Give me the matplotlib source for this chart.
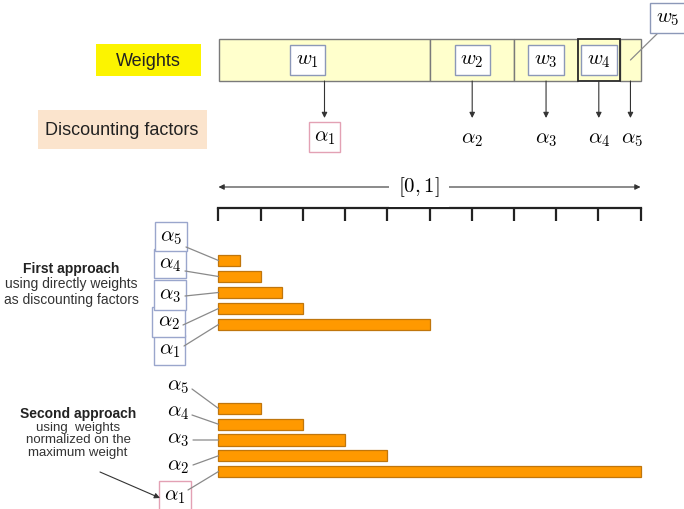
import numpy as np
import matplotlib
matplotlib.use('Agg')
import matplotlib.pyplot as plt
import matplotlib.transforms as mtransforms

plt.rcParams['mathtext.fontset'] = 'cm'
plt.rcParams['font.family'] = ['Liberation Sans', 'DejaVu Sans']

# ---------------- data ----------------
weight_labels = ['$w_1$', '$w_2$', '$w_3$', '$w_4$', '$w_5$']
factor_labels = [r'$\alpha_1$', r'$\alpha_2$', r'$\alpha_3$', r'$\alpha_4$', r'$\alpha_5$']
weights = [0.50, 0.20, 0.15, 0.10, 0.05]
first_approach = [0.50, 0.20, 0.15, 0.10, 0.05]    # weights used directly
second_approach = [1.00, 0.40, 0.30, 0.20, 0.10]   # weights normalized on max
ruler_ticks = [0.0, 0.1, 0.2, 0.3, 0.4, 0.5, 0.6, 0.7, 0.8, 0.9, 1.0]
range_label = '$[0, 1]$'

W, H = 684, 510
fig = plt.figure(figsize=(6.84, 5.10), dpi=100)
fig.patch.set_facecolor('white')


def px_axes(x0, y0, x1, y1):
    return fig.add_axes([x0 / W, 1 - y1 / H, (x1 - x0) / W, (y1 - y0) / H])


ov = fig.add_axes([0, 0, 1, 1])
ov.set_xlim(0, W)
ov.set_ylim(H, 0)
ov.axis('off')
ov.set_zorder(10)

MATH = 15
SANS = 13
SMALL = 10
GRAYLINE = '#8a8a8a'
BOXBLUE = '#9aa6cc'
PINK = '#e3a1b4'

# ---------------- header boxes ----------------
ov.add_patch(plt.Rectangle((96, 45), 105, 32, fc='#fcf400', ec='none'))
ov.text(148, 61, 'Weights', fontsize=SANS, ha='center', va='center', color='#222')
ov.add_patch(plt.Rectangle((38, 111), 169, 39, fc='#fbe4cd', ec='none'))
ov.text(122, 130.5, 'Discounting factors', fontsize=SANS, ha='center', va='center', color='#222')

# ---------------- weights strip ----------------
axs = px_axes(219, 40, 641, 82)
axs.set_xlim(0, 1)
axs.set_ylim(0, 1)
axs.axis('off')
lefts = np.concatenate([[0], np.cumsum(weights)[:-1]])
bars = axs.barh(0.5, weights, left=lefts, height=1.0, color='#ffffcc',
                edgecolor='#7a7a7a', linewidth=1.0)
for b in bars:
    b.set_clip_on(False)
bars[3].set_edgecolor('#2a2a2a')
bars[3].set_linewidth(1.3)
bars[3].set_zorder(3)

centers = lefts + np.array(weights) / 2
bt = mtransforms.blended_transform_factory(axs.transData, ov.transData)

wbox = dict(boxstyle='square,pad=0.28', fc='white', ec='#8c98b8', lw=1.0)
label_shift = [-0.04, 0, 0, 0]
for i in range(4):
    ov.text(centers[i] + label_shift[i], 61, weight_labels[i], transform=bt,
            fontsize=MATH, ha='center', va='center', bbox=wbox)
# w5 label outside the strip, with a leader line
ov.annotate('', xy=(660, 32), xytext=(centers[4], 61), textcoords=bt, xycoords='data',
            arrowprops=dict(arrowstyle='-', color=GRAYLINE, lw=0.9, shrinkA=0, shrinkB=0))
ov.text(668, 19, weight_labels[4], fontsize=MATH, ha='center', va='center',
        bbox=dict(boxstyle='square,pad=0.28', fc='white', ec='#8c98b8', lw=1.0))

# arrows and alpha labels
for i in range(5):
    ov.annotate('', xy=(centers[i], 119), xytext=(centers[i], 82), xycoords=bt, textcoords=bt,
                arrowprops=dict(arrowstyle='-|>', color='#333333', lw=0.8,
                                mutation_scale=8, shrinkA=0, shrinkB=0))
    if i == 0:
        ov.text(centers[i], 138, factor_labels[i], transform=bt, fontsize=MATH,
                ha='center', va='center',
                bbox=dict(boxstyle='square,pad=0.25', fc='white', ec=PINK, lw=1.0))
    else:
        ov.text(centers[i] + (0.003 if i == 4 else 0), 140, factor_labels[i], transform=bt,
                fontsize=MATH, ha='center', va='center')

# ---------------- range arrow and ruler ----------------
axr = px_axes(218.5, 197, 640.5, 209)
axr.set_xlim(0, 1)
axr.set_ylim(0, 1)
axr.patch.set_alpha(0)
for s in ['top', 'left', 'right']:
    axr.spines[s].set_visible(False)
axr.spines['bottom'].set_linewidth(1.6)
axr.spines['bottom'].set_color('#222222')
axr.set_xticks(ruler_ticks)
axr.set_yticks([])
axr.tick_params(axis='x', direction='out', length=9, width=1.6, color='#222222',
                labelbottom=False)

rt = mtransforms.blended_transform_factory(axr.transData, ov.transData)
ov.annotate('', xy=(0, 188), xytext=(1, 188), xycoords=rt, textcoords=rt,
            arrowprops=dict(arrowstyle='<|-|>', color='#333333', lw=0.8,
                            mutation_scale=8, shrinkA=0, shrinkB=0))
ov.text(419, 187, range_label, fontsize=MATH, ha='center', va='center',
        bbox=dict(boxstyle='square,pad=0.45', fc='white', ec='none'))

# ---------------- first approach ----------------
ypos = np.arange(5)
ax1 = px_axes(218.5, 253.5, 640.5, 333.5)
ax1.set_xlim(0, 1)
ax1.set_ylim(-0.5, 4.5)
ax1.axis('off')
b1 = ax1.barh(ypos, first_approach, height=0.69, color='#ff9900', edgecolor='#c0760c', linewidth=0.9)
for b in b1:
    b.set_clip_on(False)

ov.text(71, 269, 'First approach', fontsize=SMALL, fontweight='bold', ha='center', va='center', color='#222')
ov.text(71, 284.5, 'using directly weights', fontsize=SMALL, ha='center', va='center', color='#333')
ov.text(71, 300, 'as discounting factors', fontsize=SMALL, ha='center', va='center', color='#333')

box1_pos = [(169.5, 351), (168.5, 323), (170, 296), (170, 264.5), (171, 237.5)]
conn1_start = [(184, 347), (183, 326), (185, 297), (185, 272), (186, 248)]
for i in range(5):
    ov.text(box1_pos[i][0], box1_pos[i][1], factor_labels[i], fontsize=MATH,
            ha='center', va='center',
            bbox=dict(boxstyle='square,pad=0.25', fc='white', ec=BOXBLUE, lw=1.0))
    ov.annotate('', xy=(0, ypos[i]), xycoords=ax1.transData,
                xytext=conn1_start[i], textcoords='data',
                arrowprops=dict(arrowstyle='-', color=GRAYLINE, lw=0.9, shrinkA=0, shrinkB=0))

# ---------------- second approach ----------------
ax2 = px_axes(218.5, 401.6, 640.5, 480.4)
ax2.set_xlim(0, 1)
ax2.set_ylim(-0.5, 4.5)
ax2.axis('off')
b2 = ax2.barh(ypos, second_approach, height=0.70, color='#ff9900', edgecolor='#c0760c', linewidth=0.9)
for b in b2:
    b.set_clip_on(False)

ov.text(78, 414, 'Second approach', fontsize=SMALL, fontweight='bold', ha='center', va='center', color='#222')
ov.text(78, 428, 'using  weights', fontsize=9.5, ha='center', va='center', color='#333')
ov.text(78, 440.5, 'normalized on the', fontsize=9.5, ha='center', va='center', color='#333')
ov.text(78, 453, 'maximum weight', fontsize=9.5, ha='center', va='center', color='#333')

lab2_pos = [(175, 497), (178, 467), (178, 440), (178, 413), (178, 387)]
conn2_start = [(188, 491), (193, 466), (193, 441), (192, 416), (192, 390)]
for i in range(5):
    if i == 0:
        ov.text(lab2_pos[i][0], lab2_pos[i][1], factor_labels[i], fontsize=MATH,
                ha='center', va='center',
                bbox=dict(boxstyle='square,pad=0.25', fc='white', ec=PINK, lw=1.0))
    else:
        ov.text(lab2_pos[i][0], lab2_pos[i][1], factor_labels[i], fontsize=MATH,
                ha='center', va='center')
    ov.annotate('', xy=(0, ypos[i]), xycoords=ax2.transData,
                xytext=conn2_start[i], textcoords='data',
                arrowprops=dict(arrowstyle='-', color=GRAYLINE, lw=0.9, shrinkA=0, shrinkB=0))

ov.annotate('', xy=(160, 499), xytext=(100, 473),
            arrowprops=dict(arrowstyle='-|>', color='#333333', lw=0.8,
                            mutation_scale=8, shrinkA=0, shrinkB=0))

fig.savefig('out.png', dpi=100, facecolor='white')
